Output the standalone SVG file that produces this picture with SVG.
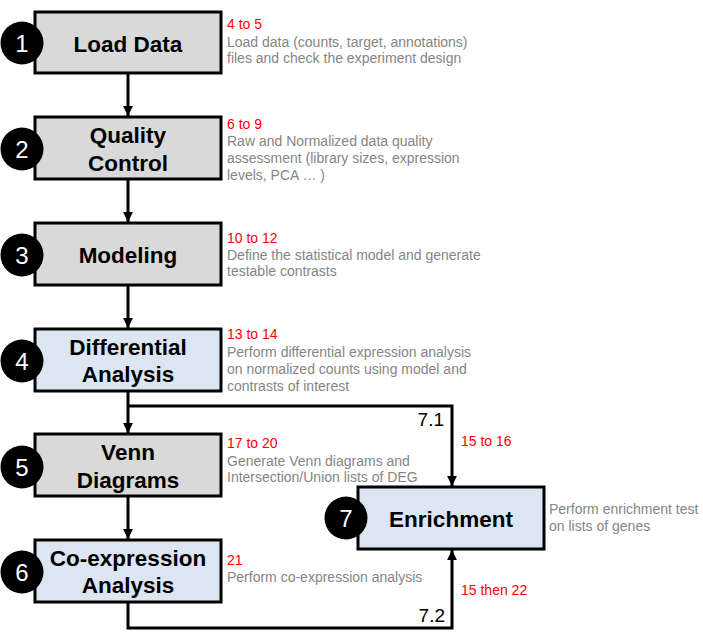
<svg xmlns="http://www.w3.org/2000/svg" width="703" height="640" viewBox="0 0 703 640">
<style>
.box{stroke:#000;stroke-width:3}
.g{fill:#d9d9d9}
.b{fill:#dce6f2}
.t{font-family:"Liberation Sans",Arial,sans-serif;font-weight:bold;font-size:22.5px;fill:#000;text-anchor:middle}
.c{fill:#000}
.n{font-family:"Liberation Sans",Arial,sans-serif;font-size:24px;fill:#fff;text-anchor:middle}
.r{font-family:"Liberation Sans",Arial,sans-serif;font-size:14px;fill:#ff0000}
.d{font-family:"Liberation Sans",Arial,sans-serif;font-size:14px;fill:#858585}
.l{font-family:"Liberation Sans",Arial,sans-serif;font-size:19px;fill:#000;text-anchor:end}
.e{fill:none;stroke:#000;stroke-width:3}
</style>
<defs>
<marker id="ah" viewBox="0 0 10 10" refX="10" refY="5" markerWidth="3.3" markerHeight="3.4" orient="auto" markerUnits="strokeWidth">
<path d="M0,0 L10,5 L0,10 Z" fill="#000"/>
</marker>
</defs>
<g id="connectors">
<line class="e" x1="128" y1="73" x2="128" y2="116" marker-end="url(#ah)"/>
<line class="e" x1="128" y1="179" x2="128" y2="222" marker-end="url(#ah)"/>
<line class="e" x1="128" y1="285" x2="128" y2="328" marker-end="url(#ah)"/>
<line class="e" x1="128" y1="391" x2="128" y2="433" marker-end="url(#ah)"/>
<line class="e" x1="128" y1="496" x2="128" y2="539" marker-end="url(#ah)"/>
<polyline class="e" points="128,406 452,406 452,486" marker-end="url(#ah)"/>
<polyline class="e" points="128,602 128,628 452,628 452,550" marker-end="url(#ah)"/>
<text class="l" x="444" y="426">7.1</text>
<text class="r" x="461" y="446">15 to 16</text>
<text class="l" x="445" y="622">7.2</text>
<text class="r" x="461" y="595">15 then 22</text>
</g>
<g id="node1">
<rect class="box g" x="35" y="12" width="186" height="61"/>
<text class="t" x="128" y="52">Load Data</text>
<circle class="c" cx="22" cy="43" r="21.5"/>
<text class="n" x="22" y="52">1</text>
<text class="r" x="227" y="29">4 to 5</text>
<text class="d" x="227" y="46.5">Load data (counts, target, annotations)</text>
<text class="d" x="227" y="63">files and check the experiment design</text>
</g>
<g id="node2">
<rect class="box g" x="35" y="117" width="186" height="62"/>
<text class="t" x="128" y="143">Quality</text>
<text class="t" x="128" y="171">Control</text>
<circle class="c" cx="22" cy="149" r="21.5"/>
<text class="n" x="22" y="158">2</text>
<text class="r" x="227" y="129">6 to 9</text>
<text class="d" x="227" y="146">Raw and Normalized data quality</text>
<text class="d" x="227" y="163">assessment (library sizes, expression</text>
<text class="d" x="227" y="180">levels, PCA … )</text>
</g>
<g id="node3">
<rect class="box g" x="35" y="223" width="186" height="62"/>
<text class="t" x="128" y="263">Modeling</text>
<circle class="c" cx="22" cy="255" r="21.5"/>
<text class="n" x="22" y="264">3</text>
<text class="r" x="227" y="243">10 to 12</text>
<text class="d" x="227" y="259.5">Define the statistical model and generate</text>
<text class="d" x="227" y="276">testable contrasts</text>
</g>
<g id="node4">
<rect class="box b" x="35" y="329" width="186" height="62"/>
<text class="t" x="128" y="355">Differential</text>
<text class="t" x="128" y="382">Analysis</text>
<circle class="c" cx="22" cy="361" r="21.5"/>
<text class="n" x="22" y="370">4</text>
<text class="r" x="227" y="339">13 to 14</text>
<text class="d" x="227" y="357">Perform differential expression analysis</text>
<text class="d" x="227" y="374">on normalized counts using model and</text>
<text class="d" x="227" y="391">contrasts of interest</text>
</g>
<g id="node5">
<rect class="box g" x="35" y="434" width="186" height="62"/>
<text class="t" x="128" y="460">Venn</text>
<text class="t" x="128" y="488">Diagrams</text>
<circle class="c" cx="22" cy="467" r="21.5"/>
<text class="n" x="22" y="476">5</text>
<text class="r" x="227" y="448">17 to 20</text>
<text class="d" x="227" y="465.5">Generate Venn diagrams and</text>
<text class="d" x="227" y="482">Intersection/Union lists of DEG</text>
</g>
<g id="node6">
<rect class="box b" x="35" y="540" width="186" height="62"/>
<text class="t" x="128" y="566">Co-expression</text>
<text class="t" x="128" y="593">Analysis</text>
<circle class="c" cx="22" cy="572" r="21.5"/>
<text class="n" x="22" y="581">6</text>
<text class="r" x="227" y="565">21</text>
<text class="d" x="227" y="582">Perform co-expression analysis</text>
</g>
<g id="node7">
<rect class="box b" x="358" y="487" width="186" height="62"/>
<text class="t" x="451" y="527">Enrichment</text>
<circle class="c" cx="346" cy="518" r="21.5"/>
<text class="n" x="346" y="527">7</text>
<text class="d" x="549" y="514">Perform enrichment test</text>
<text class="d" x="549" y="531">on lists of genes</text>
</g>
</svg>
